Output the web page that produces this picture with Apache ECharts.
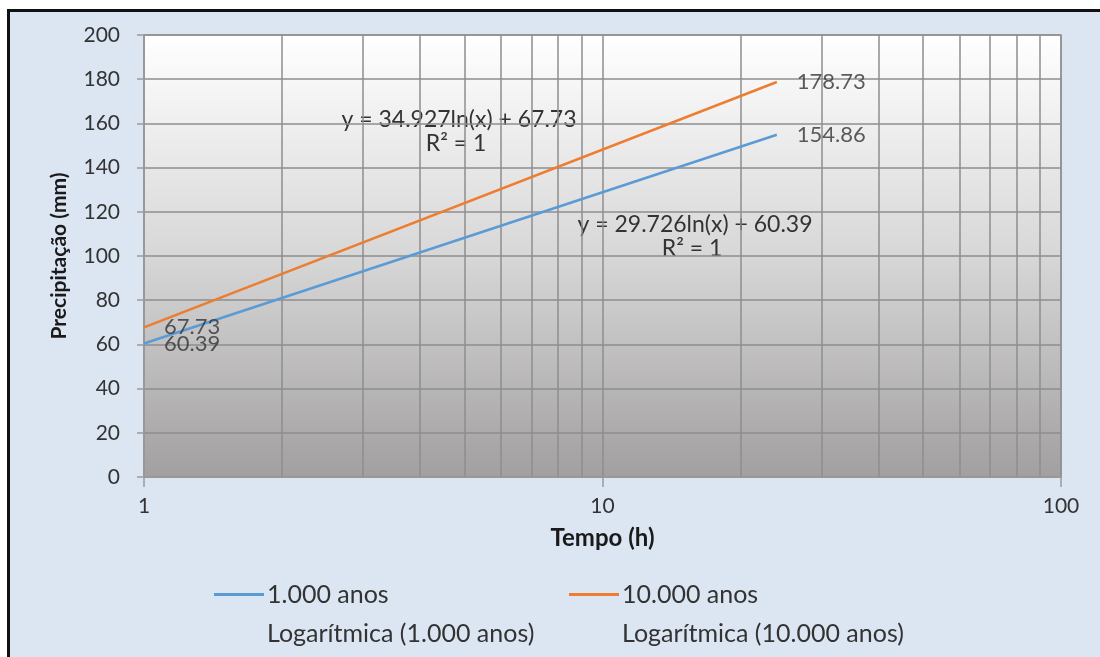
<!DOCTYPE html>
<html>
<head>
<meta charset="utf-8">
<script src="https://cdn.jsdelivr.net/npm/echarts@6/dist/echarts.min.js"></script>
<style>
  html, body { margin: 0; padding: 0; background: #ffffff; }
  #frame { position: absolute; left: 7px; top: 9px; width: 1093px; height: 648px;
           background: #dce6f2; border-left: 3px solid #111; border-top: 3px solid #111; box-sizing: border-box; }
  #chart { position: absolute; left: 0; top: 0; width: 1100px; height: 657px; }
</style>
</head>
<body>
<div id="frame"></div>
<div id="chart"></div>
<script>
// Data
const durations = [1, 24];                 // Tempo (h)
const values1000 = [60.39, 154.86];        // 1.000 anos
const values10000 = [67.73, 178.73];       // 10.000 anos
const yTicks = [0, 20, 40, 60, 80, 100, 120, 140, 160, 180, 200];
const minorGridX = [2, 3, 4, 5, 6, 7, 8, 9, 20, 30, 40, 50, 60, 70, 80, 90];
const seriesNames = ['1.000 anos', '10.000 anos', 'Logarítmica (1.000 anos)', 'Logarítmica (10.000 anos)'];
const equations = [
  { eq: 'y = 34.927ln(x) + 67.73', r2: 'R² = 1' },
  { eq: 'y = 29.726ln(x) + 60.39', r2: 'R² = 1' }
];

const pair = (xs, ys) => xs.map((x, i) => [x, ys[i]]);
const FONT = 'Lato, "Open Sans", sans-serif';
const TXT = '#333333';
const GRIDC = '#8e8e8e';
const BLUE = '#5b9bd5', ORANGE = '#ed7d31';

const chart = echarts.init(document.getElementById('chart'), null, { renderer: 'canvas' });

const labelStyle = { show: true, position: 'right', distance: 20, offset: [0, 3],
  fontSize: 22, color: TXT, fontFamily: FONT, formatter: p => p.value[1].toFixed(2) };

const legendBase = { orient: 'horizontal', padding: 0, itemWidth: 50, itemHeight: 3, itemGap: 0, icon: 'rect',
  textStyle: { fontSize: 25, color: TXT, fontFamily: FONT, padding: [0, 0, 0, -2] }, selectedMode: false };

const eqText = (x, y, t) => ({ type: 'text', x: x, y: y, silent: true,
  style: { text: t, align: 'center', verticalAlign: 'middle', fontSize: 23, fill: TXT, fontFamily: FONT } });

chart.setOption({
  backgroundColor: 'transparent',
  animation: false,
  grid: { left: 144, top: 35, right: 39, bottom: 180, show: true,
    borderColor: '#9a9a9a', borderWidth: 1.5,
    backgroundColor: new echarts.graphic.LinearGradient(0, 0, 0, 1, [
      { offset: 0, color: '#ffffff' }, { offset: 0.5, color: '#d8d7d7' }, { offset: 1, color: '#a19f9f' }
    ]) },
  xAxis: {
    type: 'log', logBase: 10, min: 1, max: 100,
    name: 'Tempo (h)', nameLocation: 'middle', nameGap: 49,
    nameTextStyle: { fontSize: 24, fontWeight: 'bold', color: '#1a1a1a', fontFamily: FONT },
    axisLine: { lineStyle: { color: '#9a9a9a', width: 1.5 } },
    axisTick: { show: true, length: 10, inside: false, lineStyle: { color: '#9a9a9a', width: 1.5 } },
    axisLabel: { fontSize: 21, color: TXT, fontFamily: FONT, margin: 19 },
    splitLine: { show: true, lineStyle: { color: GRIDC, width: 1.5 } }
  },
  yAxis: {
    type: 'value', min: 0, max: 200, interval: 20,
    name: 'Precipitação (mm)', nameLocation: 'middle', nameGap: 74, nameRotate: 90,
    nameTextStyle: { fontSize: 21, fontWeight: 'bold', color: '#1a1a1a', fontFamily: FONT },
    axisLine: { show: true, lineStyle: { color: '#9a9a9a', width: 1.5 } },
    axisTick: { show: true, length: 7, lineStyle: { color: '#9a9a9a', width: 1.5 } },
    axisLabel: { fontSize: 21, color: TXT, fontFamily: FONT, margin: 24,
      formatter: v => yTicks.includes(v) ? String(v) : '' },
    splitLine: { show: true, lineStyle: { color: GRIDC, width: 1.5 } }
  },
  legend: [
    Object.assign({}, legendBase, { data: [seriesNames[0]], left: 214, top: 582 }),
    Object.assign({}, legendBase, { data: [seriesNames[1]], left: 569, top: 582 }),
    Object.assign({}, legendBase, { data: [seriesNames[2]], left: 214, top: 621 }),
    Object.assign({}, legendBase, { data: [seriesNames[3]], left: 569, top: 621 })
  ],
  graphic: [
    eqText(459, 120, equations[0].eq), eqText(456, 144, equations[0].r2),
    eqText(695, 225, equations[1].eq), eqText(692, 249, equations[1].r2)
  ],
  series: [
    { name: seriesNames[0], type: 'line', data: pair(durations, values1000), symbol: 'none', z: 5,
      lineStyle: { color: BLUE, width: 2.5 }, itemStyle: { color: BLUE },
      markLine: { silent: true, symbol: 'none', label: { show: false }, z: 1,
        lineStyle: { color: GRIDC, width: 1.5, type: 'solid' },
        data: minorGridX.map(x => ({ xAxis: x })) } },
    { name: seriesNames[1], type: 'line', data: pair(durations, values10000), symbol: 'none', z: 5,
      lineStyle: { color: ORANGE, width: 2.5 }, itemStyle: { color: ORANGE } },
    { name: seriesNames[2], type: 'line', data: pair(durations, values1000), symbol: 'none', silent: true,
      lineStyle: { color: 'transparent', width: 0 }, itemStyle: { color: 'transparent' } },
    { name: seriesNames[3], type: 'line', data: pair(durations, values10000), symbol: 'none', silent: true,
      lineStyle: { color: 'transparent', width: 0 }, itemStyle: { color: 'transparent' } },
    // data labels for the two measured series
    { name: 'labels1000', type: 'scatter', data: pair(durations, values1000), symbolSize: 0, silent: true, z: 6,
      itemStyle: { color: 'transparent' }, label: labelStyle, labelLayout: { hideOverlap: false } },
    { name: 'labels10000', type: 'scatter', data: pair(durations, values10000), symbolSize: 0, silent: true, z: 6,
      itemStyle: { color: 'transparent' }, label: labelStyle, labelLayout: { hideOverlap: false } }
  ]
});
</script>
</body>
</html>
